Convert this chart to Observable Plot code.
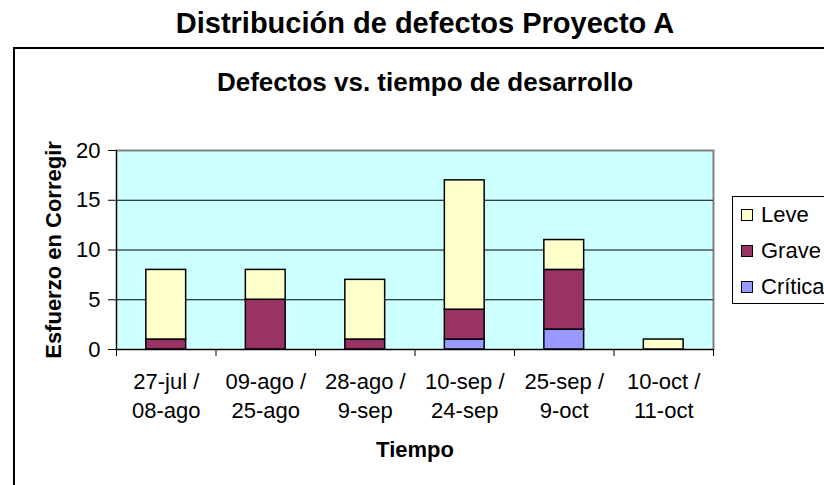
<!DOCTYPE html>
<html>
<head>
<meta charset="utf-8">
<script src="https://cdn.jsdelivr.net/npm/d3@7"></script>
<script src="https://cdn.jsdelivr.net/npm/@observablehq/plot@0.6"></script>
<style>
  html, body { margin: 0; padding: 0; background: #ffffff; }
  #wrap { position: relative; width: 824px; height: 485px; overflow: hidden; font-family: "Liberation Sans", Arial, sans-serif; }
  #wrap svg { position: absolute; left: 0; top: 0; }
  #border { position: absolute; left: 13px; top: 47px; width: 900px; height: 600px; border-left: 2px solid #000; border-top: 2px solid #000; pointer-events: none; z-index: 2; }
  #legend { position: absolute; left: 732px; top: 196px; width: 110px; height: 106px; border: 1px solid #000; background: #fff; z-index: 3; }
  .item { position: absolute; left: 8px; height: 24px; display: flex; align-items: center; font-size: 22px; color: #000; }
  .sw { width: 10px; height: 10px; border: 1px solid #000; margin-right: 8px; }
</style>
</head>
<body>
<div id="wrap"><div id="border"></div><div id="legend"></div></div>
<script>
const mainTitle = "Distribución de defectos Proyecto A";
const chartTitle = "Defectos vs. tiempo de desarrollo";
const xTitle = "Tiempo";
const yTitle = "Esfuerzo en Corregir";

const periodStart = ["27-jul /", "09-ago /", "28-ago /", "10-sep /", "25-sep /", "10-oct /"];
const periodEnd   = ["08-ago", "25-ago", "9-sep", "24-sep", "9-oct", "11-oct"];

const series = ["Crítica", "Grave", "Leve"];
const colors = ["#9999FF", "#993366", "#FFFFCC"];
const critica = [0, 0, 0, 1, 2, 0];
const grave   = [1, 5, 1, 3, 6, 0];
const leve    = [7, 3, 6, 13, 3, 1];

const yTicks = [0, 5, 10, 15, 20];

const values = [critica, grave, leve];
const rows = [];
series.forEach((s, k) => values[k].forEach((v, i) => { if (v > 0) rows.push({i, serie: s, value: v}); }));
const boundaries = d3.range(periodStart.length + 1);
const centers = periodStart.map((_, i) => i + 0.5);

const font = "Liberation Sans, Arial, sans-serif";

const chart = Plot.plot({
  width: 824,
  height: 485,
  marginLeft: 116,
  marginRight: 111,
  marginTop: 150,
  marginBottom: 136,
  style: {fontFamily: font, color: "#000", background: "transparent", overflow: "visible"},
  x: {domain: [0, periodStart.length]},
  y: {domain: [0, 20]},
  color: {domain: series, range: colors},
  marks: [
    Plot.frame({fill: "#CCFFFF", stroke: "#808080", strokeWidth: 2}),
    Plot.ruleY(yTicks.filter(d => d > 0 && d < 20), {stroke: "#000", strokeWidth: 1}),
    Plot.rectY(rows, {
      x1: d => d.i + 0.3,
      x2: d => d.i + 0.7,
      y: "value",
      fill: "serie",
      stroke: "#000",
      strokeWidth: 1.5
    }),
    Plot.ruleX([0], {stroke: "#000", strokeWidth: 1}),
    Plot.ruleY([0], {stroke: "#000", strokeWidth: 1}),
    Plot.axisY({ticks: yTicks, tickSize: 8, tickPadding: 8, fontSize: 22, label: null, stroke: "#000"}),
    Plot.axisX({ticks: boundaries, tickSize: 7, tickFormat: () => "", label: null, stroke: "#000"}),
    Plot.text(centers, {x: d => d, text: (d, i) => periodStart[i], frameAnchor: "bottom", lineAnchor: "middle", dy: 32, fontSize: 22, fill: "#000"}),
    Plot.text(centers, {x: d => d, text: (d, i) => periodEnd[i], frameAnchor: "bottom", lineAnchor: "middle", dy: 61, fontSize: 22, fill: "#000"}),
    Plot.text([xTitle], {text: d => d, frameAnchor: "bottom", lineAnchor: "middle", dy: 100, fontSize: 22, fontWeight: "bold", fill: "#000"}),
    Plot.text([yTitle], {text: d => d, frameAnchor: "left", textAnchor: "middle", lineAnchor: "middle", dx: -63, rotate: -90, fontSize: 22, fontWeight: "bold", fill: "#000"}),
    Plot.text([chartTitle], {text: d => d, frameAnchor: "top", lineAnchor: "middle", dy: -68, dx: 10, fontSize: 26, fontWeight: "bold", fill: "#000"}),
    Plot.text([mainTitle], {text: d => d, frameAnchor: "top", lineAnchor: "middle", dy: -127, dx: 10, fontSize: 29, fontWeight: "bold", fill: "#000"})
  ]
});
document.getElementById("wrap").appendChild(chart);

const legend = document.getElementById("legend");
const legendOrder = series.slice().reverse();
legendOrder.forEach((s, k) => {
  const item = document.createElement("div");
  item.className = "item";
  item.style.top = (6 + k * 36) + "px";
  const sw = document.createElement("div");
  sw.className = "sw";
  sw.style.background = colors[series.indexOf(s)];
  const label = document.createElement("span");
  label.textContent = s;
  item.appendChild(sw);
  item.appendChild(label);
  legend.appendChild(item);
});
</script>
</body>
</html>
